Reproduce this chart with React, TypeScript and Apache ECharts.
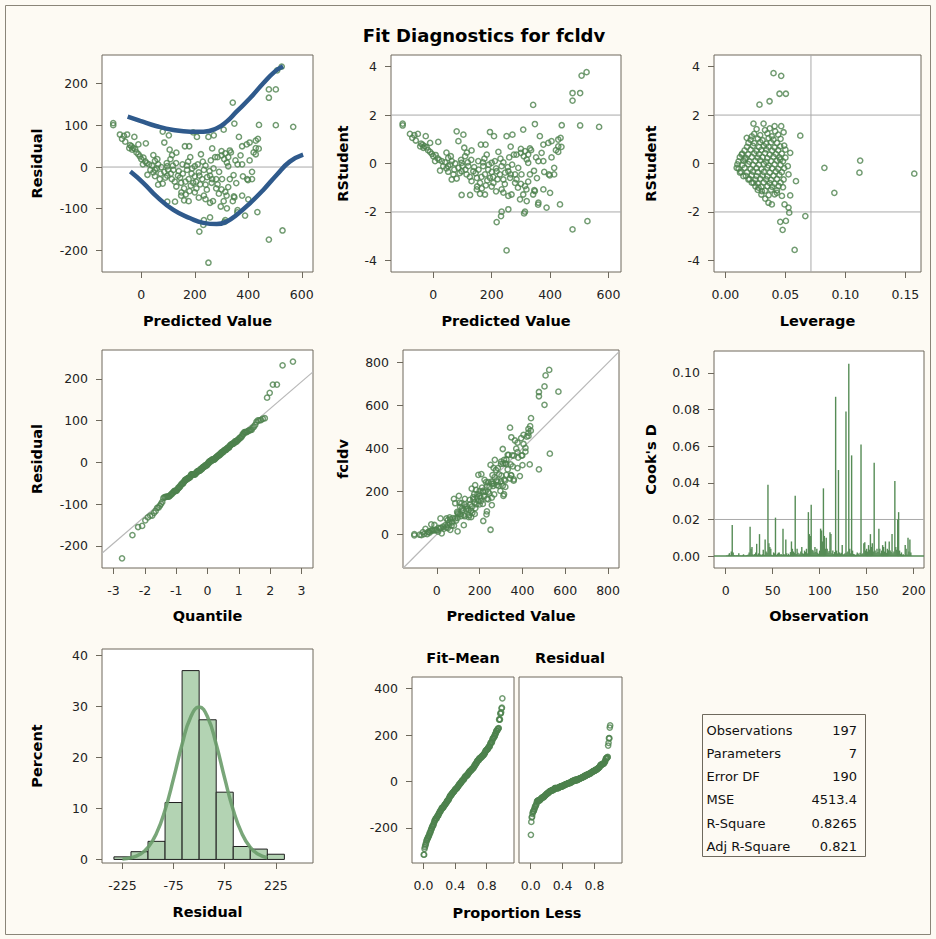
import React, { useEffect, useRef } from 'react';
import * as echarts from 'echarts';

// ---------- Data ----------
// Predicted value and studentized residual of each of the 197 observations
const predicted = [
  -105, -105, -80, -65, -53, -26, -72, -45, -34, -23,
  -37, -11, -11, 17, 0, 15, 29, 6, 23, 34,
  51, 51, 51, 63, 69, 63, 80, 86, 97, 97,
  109, 106, 80, 103, 86, 131, 120, 114, 137, 149,
  131, 154, 163, 179, 171, 183, 188, 194, 208, 177,
  194, 206, 160, 166, 160, 177, 149, 97, 126, 200,
  211, 223, 217, 234, 228, 246, 240, 257, 263, 234,
  251, 271, 308, 348, 440, 276, 285, 300, 314, 325,
  331, 320, 325, 291, 302, 280, 280, 300, 331, 314,
  308, 268, 257, 297, 320, 342, 348, 377, 400, 360,
  388, 434, 257, 314, 234, 365, 377, 371, 377, 360,
  394, 405, 428, 436, 428, 428, 414, 414, 396, 342,
  525, 508, 477, 503, 477, 503, 568, 439, 399, 311,
  232, 217, 251, 477, 528, 319, 359, 346,
  -60, -42, -30, -18, -5, 8, 20, 40, 45, 58,
  72, 75, 90, 100, 110, 118, 125, 140, 145, 155,
  165, 170, 185, 190, 200, 205, 215, 220, 240, 245,
  255, 265, 270, 285, 290, 200, 215, 95, 60, 130,
  175, 230, 260, 300, 310, 335, 352, 345, 355, 380,
  405, 420, 150, 180, 240, 325, 265, 115, 45,
];
const rstudent = [
  1.65, 1.57, 1.22, 1.17, 1.22, 1.13, 1.06, 0.71, 0.65, 0.67,
  0.78, 0.85, 0.48, 0.89, 0.30, 0.21, 0.10, 0.10, -0.29, -0.11,
  0.23, -0.11, -0.34, 0.10, -0.45, -0.66, -0.62, -0.18, 0.03, -0.32,
  0.30, 0.65, 1.33, 1.19, 0.92, 0.54, -0.11, -0.45, -0.32, -0.59,
  -0.73, 0.10, 0.78, 0.78, -0.11, 0.37, -0.25, 1.30, 1.13, -0.45,
  -0.59, -0.80, -0.80, -1.03, -1.25, -1.28, -1.07, -1.30, -1.30, 0.03,
  0.10, 0.48, -0.32, -0.11, -0.45, -0.38, -0.66, -0.32, -0.59, -1.07,
  1.13, 1.19, 1.40, 1.63, 1.58, 0.37, 0.37, 0.44, 0.51, 0.37,
  0.62, 0.17, 0.03, -0.18, -0.45, -0.45, -0.80, -0.84, -0.45, -0.93,
  -1.28, -1.28, -1.34, -1.48, -1.55, -1.28, -1.14, -1.07, -1.21, -1.62,
  -1.82, -1.69, -1.89, -1.99, -1.99, 1.13, 0.78, 0.44, 0.10, 0.10,
  0.85, 0.92, 0.99, 1.06, 0.71, 0.48, -0.18, -0.45, -0.45, 2.42,
  3.77, 3.63, 2.91, 2.91, 2.60, 1.57, 1.51, 0.69, -0.49, -2.06,
  -2.17, -2.42, -3.59, -2.72, -2.38, -1.07, -1.70, -1.10,
  0.95, 0.82, 0.72, 0.55, 0.40, 0.35, 0.15, 0.05, -0.20, -0.05,
  -0.25, 0.00, -0.40, -0.10, -0.25, 0.05, -0.55, -0.15, -0.40, -0.25,
  -0.55, 0.05, -0.70, -0.05, -0.35, -0.55, -0.20, -0.65, 0.05, -0.85,
  -0.15, -0.45, -0.05, -0.65, -1.00, -0.95, -1.15, 0.15, 0.30, 0.15,
  0.20, 0.20, 0.25, 0.60, 0.30, 0.55, 0.25, -0.30, -0.60, -0.35,
  0.25, 0.55, -0.95, -0.90, -1.20, -0.75, 0.70, 0.45, 0.45,
];
// residual units per unit of RStudent
const RESID_PER_RSTUDENT = 64;

// Leverage panel (leverage, RStudent)
const leverage = [
  0.0401, 0.0465, 0.0451, 0.0504, 0.0368, 0.0284, 0.0234, 0.0318, 0.041, 0.0465,
  0.0485, 0.0624, 0.0666, 0.0577, 0.0477, 0.0457, 0.0504, 0.0532, 0.0526, 0.0493,
  0.054, 0.0588, 0.054, 0.052, 0.0526, 0.0094, 0.0136, 0.0178, 0.0359, 0.0387,
  0.0332, 0.0429, 0.0471, 0.0443, 0.0485, 0.0457, 0.0457, 0.0387, 0.0415, 0.022,
  0.0192, 0.0164, 0.0122, 0.015, 0.0192, 0.0234, 0.0276, 0.0304, 0.0825, 0.0908,
  0.1123, 0.1117, 0.1574,
  0.026, 0.033, 0.037, 0.024, 0.029, 0.035, 0.044,
  0.021, 0.027, 0.031, 0.036, 0.040, 0.046,
  0.024, 0.029, 0.034, 0.038, 0.043,
  0.018, 0.023, 0.028, 0.032, 0.036, 0.041, 0.049,
  0.016, 0.021, 0.026, 0.030, 0.034, 0.039, 0.044, 0.050,
  0.014, 0.019, 0.024, 0.028, 0.033, 0.037, 0.042, 0.047,
  0.012, 0.017, 0.022, 0.027, 0.031, 0.035, 0.040, 0.045, 0.050,
  0.011, 0.015, 0.020, 0.025, 0.029, 0.034, 0.038, 0.043, 0.048,
  0.010, 0.014, 0.019, 0.023, 0.028, 0.032, 0.036, 0.041, 0.046,
  0.011, 0.016, 0.021, 0.026, 0.030, 0.035, 0.039, 0.044, 0.049,
  0.013, 0.018, 0.023, 0.027, 0.032, 0.037, 0.042, 0.047,
  0.017, 0.022, 0.026, 0.031, 0.035, 0.040, 0.045,
  0.020, 0.025, 0.029, 0.034, 0.038, 0.043,
  0.022, 0.027, 0.032, 0.037, 0.041, 0.046,
  0.025, 0.030, 0.035, 0.039, 0.048,
  0.027, 0.033, 0.038, 0.043,
  0.030, 0.036, 0.041,
];
const leverageRStudent = [
  3.73, 3.62, 2.88, 2.88, 2.57, 2.43, 1.65, 1.65, 1.54, 1.54,
  1.29, 1.15, -2.17, -3.57, -2.74, -2.41, -2.37, -2.03, -1.82, -1.69,
  -1.32, -0.73, 0.44, -0.11, -0.45, -0.18, 0.37, 1.06, -1.62, -1.69,
  -1.45, -1.21, -1.34, -0.93, -0.66, 0.17, 0.71, 1.12, 1.33, 1.12,
  0.85, 0.17, -0.38, -0.52, -0.66, -0.8, -1.0, -1.14, -0.18, -1.21,
  0.12, -0.38, -0.42,
  1.42, 1.38, 1.45, 1.22, 1.17, 1.24, 1.19,
  0.98, 1.03, 0.96, 1.05, 0.99, 1.02,
  0.84, 0.88, 0.82, 0.87, 0.85,
  0.69, 0.73, 0.68, 0.72, 0.7, 0.66, 0.74,
  0.54, 0.57, 0.52, 0.56, 0.58, 0.53, 0.55, 0.57,
  0.41, 0.38, 0.42, 0.39, 0.43, 0.37, 0.4, 0.41,
  0.26, 0.23, 0.27, 0.24, 0.26, 0.22, 0.28, 0.25, 0.24,
  0.09, 0.12, 0.08, 0.11, 0.13, 0.07, 0.1, 0.12, 0.09,
  -0.04, -0.07, -0.03, -0.06, -0.05, -0.02, -0.08, -0.04, -0.06,
  -0.21, -0.18, -0.22, -0.19, -0.23, -0.17, -0.2, -0.22, -0.19,
  -0.34, -0.37, -0.33, -0.36, -0.35, -0.38, -0.33, -0.36,
  -0.51, -0.48, -0.52, -0.49, -0.53, -0.5, -0.47,
  -0.64, -0.67, -0.63, -0.66, -0.68, -0.64,
  -0.79, -0.82, -0.78, -0.81, -0.83, -0.79,
  -0.94, -0.97, -0.93, -0.96, -0.98,
  -1.09, -1.12, -1.08, -1.11,
  -1.28, -1.31, -1.27,
];
const LEVERAGE_CUTOFF = 0.0713;
const RSTUDENT_CUTOFFS = [-2, 2];

// Cook's D by observation number (1..197)
const cooksD = [
  0.0003, 0.0002, 0.0008, 0.0016, 0.0004, 0.0025, 0.017, 0.002, 0.0006, 0.0003,
  0.0002, 0.0004, 0.0003, 0.0016, 0.0002, 0.0003, 0.0002, 0.0004, 0.001, 0.0003,
  0.0002, 0.0004, 0.0006, 0.0009, 0.002, 0.016, 0.004, 0.005, 0.001, 0.0005,
  0.0012, 0.002, 0.0067, 0.0008, 0.0015, 0.012, 0.0009, 0.0004, 0.001, 0.0035,
  0.0008, 0.009, 0.0025, 0.0018, 0.039, 0.007, 0.005, 0.004, 0.0007, 0.0004,
  0.002, 0.0015, 0.021, 0.0006, 0.0012, 0.0018, 0.002, 0.0009, 0.0011, 0.0006,
  0.015, 0.0012, 0.0008, 0.009, 0.0015, 0.0006, 0.0013, 0.0004, 0.0022, 0.008,
  0.004, 0.0025, 0.0018, 0.033, 0.0012, 0.004, 0.0018, 0.0009, 0.0014, 0.0025,
  0.005, 0.0016, 0.0012, 0.003, 0.0022, 0.004, 0.0015, 0.024, 0.012, 0.011,
  0.028, 0.0035, 0.003, 0.002, 0.005, 0.0022, 0.004, 0.0018, 0.0012, 0.003,
  0.015, 0.014, 0.008, 0.037, 0.011, 0.004, 0.010, 0.004, 0.002, 0.0028,
  0.013, 0.012, 0.0016, 0.003, 0.0012, 0.0022, 0.087, 0.003, 0.0015, 0.047,
  0.002, 0.0013, 0.0018, 0.006, 0.0009, 0.0012, 0.0015, 0.079, 0.002, 0.0025,
  0.105, 0.004, 0.0015, 0.055, 0.003, 0.0012, 0.001, 0.0006, 0.0009, 0.002,
  0.0014, 0.0008, 0.0018, 0.061, 0.0012, 0.0016, 0.007, 0.0075, 0.003, 0.004,
  0.0025, 0.006, 0.0035, 0.012, 0.005, 0.007, 0.0025, 0.051, 0.003, 0.0018,
  0.004, 0.0022, 0.015, 0.004, 0.0016, 0.003, 0.006, 0.005, 0.0025, 0.008,
  0.0018, 0.004, 0.0032, 0.008, 0.003, 0.0022, 0.012, 0.0015, 0.0025, 0.041,
  0.005, 0.0035, 0.020, 0.024, 0.003, 0.0012, 0.002, 0.0008, 0.001, 0.0004,
  0.006, 0.004, 0.0009, 0.010, 0.0025, 0.009, 0.002,
];
const COOKS_CUTOFF = 0.02;

// Histogram of residuals (bin centres, percent)
const histBinCenters = [-225, -175, -125, -75, -25, 25, 75, 125, 175, 225];
const histPercent = [0.51, 1.52, 3.55, 11.17, 37.06, 27.41, 13.2, 2.54, 2.03, 1.02];
const HIST_BIN_WIDTH = 50;
// Normal density curve overlaid on the histogram (residual, percent)
const normalCurveX = [-225, -200, -175, -150, -125, -100, -75, -50, -25, 0, 25, 50, 75, 100, 125, 150, 175, 200];
const normalCurvePct = [0.10, 0.33, 0.96, 2.38, 5.16, 9.72, 15.9, 22.6, 27.9, 29.9, 27.9, 22.6, 15.9, 9.72, 5.16, 2.38, 0.96, 0.33];

// Blue curves on the residual plot (predicted, residual)
const upperCurveX = [-51, -4, 58, 120, 183, 232, 282, 319, 356, 406, 456, 499, 530];
const upperCurveY = [121, 111, 98, 89, 85, 85, 93, 109, 133, 165, 201, 229, 242];
const lowerCurveX = [-41, 9, 58, 120, 183, 232, 282, 319, 356, 406, 456, 506, 555, 605];
const lowerCurveY = [-11, -39, -71, -103, -123, -134, -137, -131, -115, -87, -55, -19, 13, 30];

// Q-Q reference line end points (quantile, residual)
const qqLineX = [-3.37, 3.37];
const qqLineY = [-217.7, 216.7];
// Observed vs predicted identity line
const identityLine = [-157, 855];

// Fit statistics table
const statLabels = ['Observations', 'Parameters', 'Error DF', 'MSE', 'R-Square', 'Adj R-Square'];
const statValues = ['197', '7', '190', '4513.4', '0.8265', '0.821'];

// Tick values
const ticksPred = [0, 200, 400, 600];
const ticksResid = [-200, -100, 0, 100, 200];
const ticksRStudent = [-4, -2, 0, 2, 4];
const ticksLeverage = [0, 0.05, 0.1, 0.15];
const ticksQuantile = [-3, -2, -1, 0, 1, 2, 3];
const ticksObsPred = [0, 200, 400, 600, 800];
const ticksCooks = [0, 0.02, 0.04, 0.06, 0.08, 0.1];
const ticksObs = [0, 50, 100, 150, 200];
const ticksPercent = [0, 10, 20, 30, 40];
const ticksHistX = [-225, -75, 75, 225];
const ticksSpreadY = [-200, 0, 200, 400];
const ticksProp = [0, 0.4, 0.8];

// ---------- helpers ----------
function invNorm(p: number): number {
  const a = [-3.969683028665376e1, 2.209460984245205e2, -2.759285104469687e2, 1.38357751867269e2, -3.066479806614716e1, 2.506628277459239];
  const b = [-5.447609879822406e1, 1.615858368580409e2, -1.556989798598866e2, 6.680131188771972e1, -1.328068155288572e1];
  const c = [-7.784894002430293e-3, -3.223964580411365e-1, -2.400758277161838, -2.549732539343734, 4.374664141464968, 2.938163982698783];
  const d = [7.784695709041462e-3, 3.224671290700398e-1, 2.445134137142996, 3.754408661907416];
  const pl = 0.02425;
  if (p < pl) {
    const q = Math.sqrt(-2 * Math.log(p));
    return (((((c[0] * q + c[1]) * q + c[2]) * q + c[3]) * q + c[4]) * q + c[5]) / ((((d[0] * q + d[1]) * q + d[2]) * q + d[3]) * q + 1);
  }
  if (p > 1 - pl) {
    const q = Math.sqrt(-2 * Math.log(1 - p));
    return -(((((c[0] * q + c[1]) * q + c[2]) * q + c[3]) * q + c[4]) * q + c[5]) / ((((d[0] * q + d[1]) * q + d[2]) * q + d[3]) * q + 1);
  }
  const q = p - 0.5;
  const r = q * q;
  return ((((((a[0] * r + a[1]) * r + a[2]) * r + a[3]) * r + a[4]) * r + a[5]) * q) / (((((b[0] * r + b[1]) * r + b[2]) * r + b[3]) * r + b[4]) * r + 1);
}

const FONT = 'DejaVu Sans';
const FRAME = '#6E695D';
const GREEN = '#4E824E';
const REF = '#A9A9A9';
const BG = '#FDFAF3';

export default function App() {
  const ref = useRef<HTMLDivElement>(null);
  useEffect(() => {
    if (!ref.current) return;
    const chart = echarts.init(ref.current, undefined, { renderer: 'svg' });

    const n = predicted.length;
    const residual = rstudent.map((r) => r * RESID_PER_RSTUDENT);
    const observed = predicted.map((p, i) => p + residual[i]);
    const meanObs = observed.reduce((s, v) => s + v, 0) / n;

    const residPts = predicted.map((p, i) => [p, residual[i]]);
    const rstudPts = predicted.map((p, i) => [p, rstudent[i]]);
    const levPts = leverage.map((l, i) => [l, leverageRStudent[i]]);
    const sortedResid = [...residual].sort((a, b) => a - b);
    const qqPts = sortedResid.map((r, i) => [invNorm((i + 1 - 0.375) / (n + 0.25)), r]);
    const obsPts = predicted.map((p, i) => [p, observed[i]]);
    const cookPts = cooksD.map((v, i) => [i + 1, v]);
    const histPts = histBinCenters.map((c, i) => [c, histPercent[i]]);
    const curvePts = normalCurveX.map((x, i) => [x, normalCurvePct[i]]);
    const fitMeanSorted = predicted.map((p) => p - meanObs).sort((a, b) => a - b);
    const fitMeanPts = fitMeanSorted.map((v, i) => [(i + 0.5) / n, v]);
    const residSpreadPts = sortedResid.map((v, i) => [(i + 0.5) / n, v]);

    const grids = [
      { left: 102, top: 55, width: 211, height: 217 },
      { left: 391, top: 55, width: 230, height: 217 },
      { left: 714, top: 55, width: 207, height: 217 },
      { left: 102, top: 350, width: 211, height: 218 },
      { left: 403, top: 350, width: 216, height: 218 },
      { left: 714, top: 351, width: 210, height: 217 },
      { left: 102, top: 649, width: 211, height: 214 },
      { left: 412, top: 677, width: 102, height: 186 },
      { left: 519, top: 677, width: 103, height: 186 },
    ];

    const nameStyle = { fontWeight: 'bold' as const, fontSize: 14.5, color: '#000', fontFamily: FONT };
    const labelBase = { color: '#222', fontSize: 12.5, fontFamily: FONT };

    const ax = (
      gridIndex: number, min: number, max: number, ticks: number[], isX: boolean,
      name: string, nameGap: number, fmt?: (v: number) => string, show = true,
    ) => ({
      type: 'value', gridIndex, min, max,
      position: isX ? 'bottom' : 'left',
      axisLine: { show: false, onZero: false },
      axisTick: { show, length: 6, lineStyle: { color: FRAME, width: 1 }, customValues: ticks },
      axisLabel: {
        show, customValues: ticks, ...labelBase, margin: isX ? 16 : 14,
        formatter: fmt ? (v: number) => fmt(v) : (v: number) => String(v),
      },
      splitLine: { show: false },
      name, nameLocation: 'middle', nameGap, nameTextStyle: nameStyle, nameMoveOverlap: false,
    });
    const f2 = (v: number) => v.toFixed(2);
    const f1 = (v: number) => v.toFixed(1);

    const xAxis = [
      ax(0, -147, 642, ticksPred, true, 'Predicted Value', 41),
      ax(1, -145, 643, ticksPred, true, 'Predicted Value', 41),
      ax(2, -0.0095, 0.163, ticksLeverage, true, 'Leverage', 41, f2),
      ax(3, -3.37, 3.37, ticksQuantile, true, 'Quantile', 40),
      ax(4, -158, 851, ticksObsPred, true, 'Predicted Value', 40),
      ax(5, -12.4, 211, ticksObs, true, 'Observation', 40),
      ax(6, -285, 334, ticksHistX, true, 'Residual', 41),
      ax(7, -0.146, 1.145, ticksProp, true, '', 0, f1),
      ax(8, -0.147, 1.146, ticksProp, true, '', 0, f1),
    ];
    const yAxis = [
      ax(0, -252, 269, ticksResid, false, 'Residual', 58),
      ax(1, -4.48, 4.48, ticksRStudent, false, 'RStudent', 41),
      ax(2, -4.48, 4.48, ticksRStudent, false, 'RStudent', 56),
      ax(3, -253, 269, ticksResid, false, 'Residual', 58),
      ax(4, -157, 859, ticksObsPred, false, 'fcldv', 53),
      ax(5, -0.0065, 0.112, ticksCooks, false, "Cook's D", 56, f2),
      ax(6, -0.7, 41.3, ticksPercent, false, 'Percent', 58),
      ax(7, -351, 450, ticksSpreadY, false, '', 0),
      ax(8, -351, 450, ticksSpreadY, false, '', 0, undefined, false),
    ];

    const scatter = (i: number, data: number[][]) => ({
      type: 'scatter', xAxisIndex: i, yAxisIndex: i, data, symbol: 'circle', symbolSize: 5.2,
      itemStyle: { color: 'rgba(255,255,255,0)', borderColor: GREEN, borderWidth: 1.5 },
      z: 3, silent: true,
    });
    const line = (i: number, data: number[][], color: string, width: number, z = 1, smooth = false, opacity = 1) => ({
      type: 'line', xAxisIndex: i, yAxisIndex: i, data, symbol: 'none', smooth,
      lineStyle: { color, width, opacity }, z, silent: true,
    });
    const xa = (i: number) => [xAxis[i].min as number, xAxis[i].max as number];
    const ya = (i: number) => [yAxis[i].min as number, yAxis[i].max as number];
    const hline = (i: number, y: number, color = REF, w = 1) => line(i, [[xa(i)[0], y], [xa(i)[1], y]], color, w);
    const vline = (i: number, x: number) => line(i, [[x, ya(i)[0]], [x, ya(i)[1]]], REF, 1);

    const series: any[] = [
      hline(0, 0),
      scatter(0, residPts),
      line(0, upperCurveX.map((x, i) => [x, upperCurveY[i]]), '#2F5A8C', 4.5, 4, true),
      line(0, lowerCurveX.map((x, i) => [x, lowerCurveY[i]]), '#2F5A8C', 4.5, 4, true),
      ...RSTUDENT_CUTOFFS.map((c) => hline(1, c)),
      scatter(1, rstudPts),
      ...RSTUDENT_CUTOFFS.map((c) => hline(2, c)),
      vline(2, LEVERAGE_CUTOFF),
      scatter(2, levPts),
      line(3, [[qqLineX[0], qqLineY[0]], [qqLineX[1], qqLineY[1]]], '#B8B8B8', 1.2),
      scatter(3, qqPts),
      line(4, [[identityLine[0], identityLine[0]], [identityLine[1], identityLine[1]]], '#B8B8B8', 1.2),
      scatter(4, obsPts),
      hline(5, COOKS_CUTOFF),
      {
        type: 'custom', xAxisIndex: 5, yAxisIndex: 5, data: cookPts, silent: true, z: 2,
        renderItem: (_p: any, api: any) => {
          const x = api.value(0), y = api.value(1);
          const p0 = api.coord([x, 0]);
          const p1 = api.coord([x, y]);
          return { type: 'line', shape: { x1: p0[0], y1: p0[1], x2: p1[0], y2: p1[1] }, style: { stroke: '#568C56', lineWidth: 1.4 } };
        },
      },
      hline(5, 0, '#568C56', 1.5),
      {
        type: 'custom', xAxisIndex: 6, yAxisIndex: 6, data: histPts, silent: true, z: 2,
        renderItem: (_p: any, api: any) => {
          const c = api.value(0), h = api.value(1);
          const a = api.coord([c - HIST_BIN_WIDTH / 2, h]);
          const b = api.coord([c + HIST_BIN_WIDTH / 2, 0]);
          return {
            type: 'rect', shape: { x: a[0], y: a[1], width: b[0] - a[0], height: b[1] - a[1] },
            style: { fill: '#B3D3B3', stroke: '#1E1E1E', lineWidth: 1 },
          };
        },
      },
      line(6, curvePts, '#6A9C6A', 3.5, 4, true, 0.9),
      scatter(7, fitMeanPts),
      scatter(8, residSpreadPts),
    ];

    const text = (x: number, y: number, t: string, opts: any = {}) => ({
      type: 'text', x, y, silent: true,
      style: { text: t, fontFamily: FONT, fontSize: 13, fill: '#111', textVerticalAlign: 'middle', ...opts },
    });

    const graphic: any[] = [
      { type: 'rect', shape: { x: 5.5, y: 5.5, width: 925, height: 929 }, style: { fill: 'none', stroke: '#8A8578', lineWidth: 1 }, silent: true },
      text(484, 35, 'Fit Diagnostics for fcldv', { fontSize: 18, fontWeight: 'bold', textAlign: 'center', fill: '#000' }),
      text(463, 658, 'Fit–Mean', { fontSize: 14.5, fontWeight: 'bold', textAlign: 'center', fill: '#000' }),
      text(570, 658, 'Residual', { fontSize: 14.5, fontWeight: 'bold', textAlign: 'center', fill: '#000' }),
      text(517, 913, 'Proportion Less', { fontSize: 14.5, fontWeight: 'bold', textAlign: 'center', fill: '#000' }),
      { type: 'rect', shape: { x: 702.5, y: 714.5, width: 163, height: 142 }, style: { fill: 'none', stroke: FRAME, lineWidth: 1 }, silent: true },
      ...statLabels.map((l, i) => text(706.5, 730 + i * 23.3, l)),
      ...statValues.map((v, i) => text(857, 730 + i * 23.3, v, { textAlign: 'right' })),
    ];

    chart.setOption({
      animation: false,
      backgroundColor: BG,
      grid: grids.map((g) => ({
        ...g, show: true, backgroundColor: '#fff', borderColor: FRAME, borderWidth: 1,
        containLabel: false, outerBoundsMode: 'none',
      })),
      xAxis, yAxis, series, graphic,
    } as any);

    return () => chart.dispose();
  }, []);

  return <div ref={ref} style={{ position: 'absolute', left: 0, top: 0, width: 936, height: 939 }} />;
}
